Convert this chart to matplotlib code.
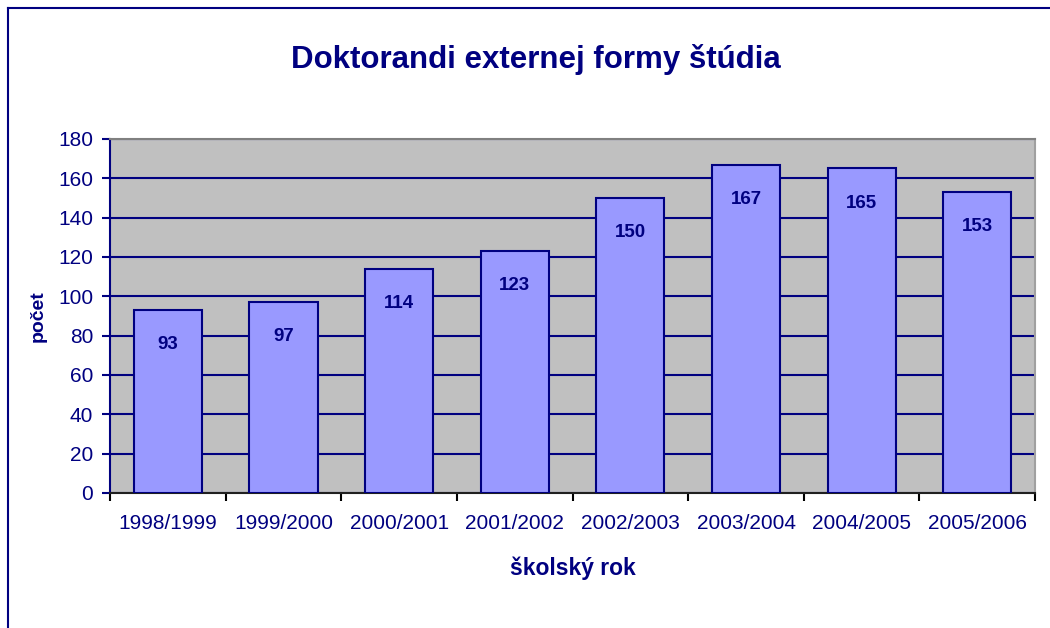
import matplotlib.pyplot as plt
import numpy as np
from matplotlib.lines import Line2D

plt.rcParams['font.family'] = ['Liberation Sans', 'DejaVu Sans']

### data

years = ['1998/1999', '1999/2000', '2000/2001', '2001/2002',
         '2002/2003', '2003/2004', '2004/2005', '2005/2006']
counts = [93, 97, 114, 123, 150, 167, 165, 153]

navy = '#000080'

fig = plt.figure(figsize=(10.5, 6.28), dpi=100)
ax = fig.add_axes([0.1048, 0.215, 0.881, 0.5637])
ax.set_facecolor('#C0C0C0')

x = np.arange(len(years))
bars = ax.bar(x, counts, width=0.59, color='#9999FF', edgecolor=navy, linewidth=1.5, zorder=3)

for p in bars:
    ax.annotate(str(int(p.get_height())), (p.get_x() + p.get_width() / 2., p.get_height()),
                ha='center', va='center', xytext=(0, -25), textcoords='offset points',
                fontsize=13.5, fontweight='bold', color=navy, zorder=4)

ax.set_xlim(-0.5, len(years) - 0.5)
ax.set_ylim(0, 180)
ax.set_yticks(range(0, 181, 20))
ax.yaxis.grid(True, color=navy, linewidth=1.5, zorder=1)
ax.set_axisbelow(True)

ax.set_xticks(x)
ax.set_xticklabels(years, fontsize=15, color=navy)
ax.set_xticks(np.arange(-0.5, len(years)), minor=True)
ax.tick_params(axis='x', which='major', length=0, pad=15)
ax.tick_params(axis='x', which='minor', length=6, width=1.5, color='black', direction='out')
ax.tick_params(axis='y', length=6, width=1.5, color=navy, labelsize=15, labelcolor=navy, pad=6)

ax.spines['left'].set_color(navy)
ax.spines['left'].set_linewidth(1.5)
ax.spines['bottom'].set_color('#202020')
ax.spines['bottom'].set_linewidth(1.5)
ax.spines['top'].set_color('#808080')
ax.spines['top'].set_linewidth(1.5)
ax.spines['right'].set_color('#A0A0A0')
ax.spines['right'].set_linewidth(1.5)

ax.set_xlabel('školský rok', fontsize=16.5, fontweight='bold', color=navy, labelpad=17)
ax.set_ylabel('počet', fontsize=14, fontweight='bold', color=navy, labelpad=8)

fig.text(0.51, 0.905, 'Doktorandi externej formy štúdia', ha='center', va='center',
         fontsize=22.5, fontweight='bold', color=navy)

# chart area border (only top and left visible)
fig.add_artist(Line2D([8 / 1050, 8 / 1050], [0, 1 - 8 / 628], color=navy, linewidth=1.5))
fig.add_artist(Line2D([8 / 1050, 1], [1 - 8 / 628, 1 - 8 / 628], color=navy, linewidth=1.5))

plt.savefig('out.png', dpi=100)
